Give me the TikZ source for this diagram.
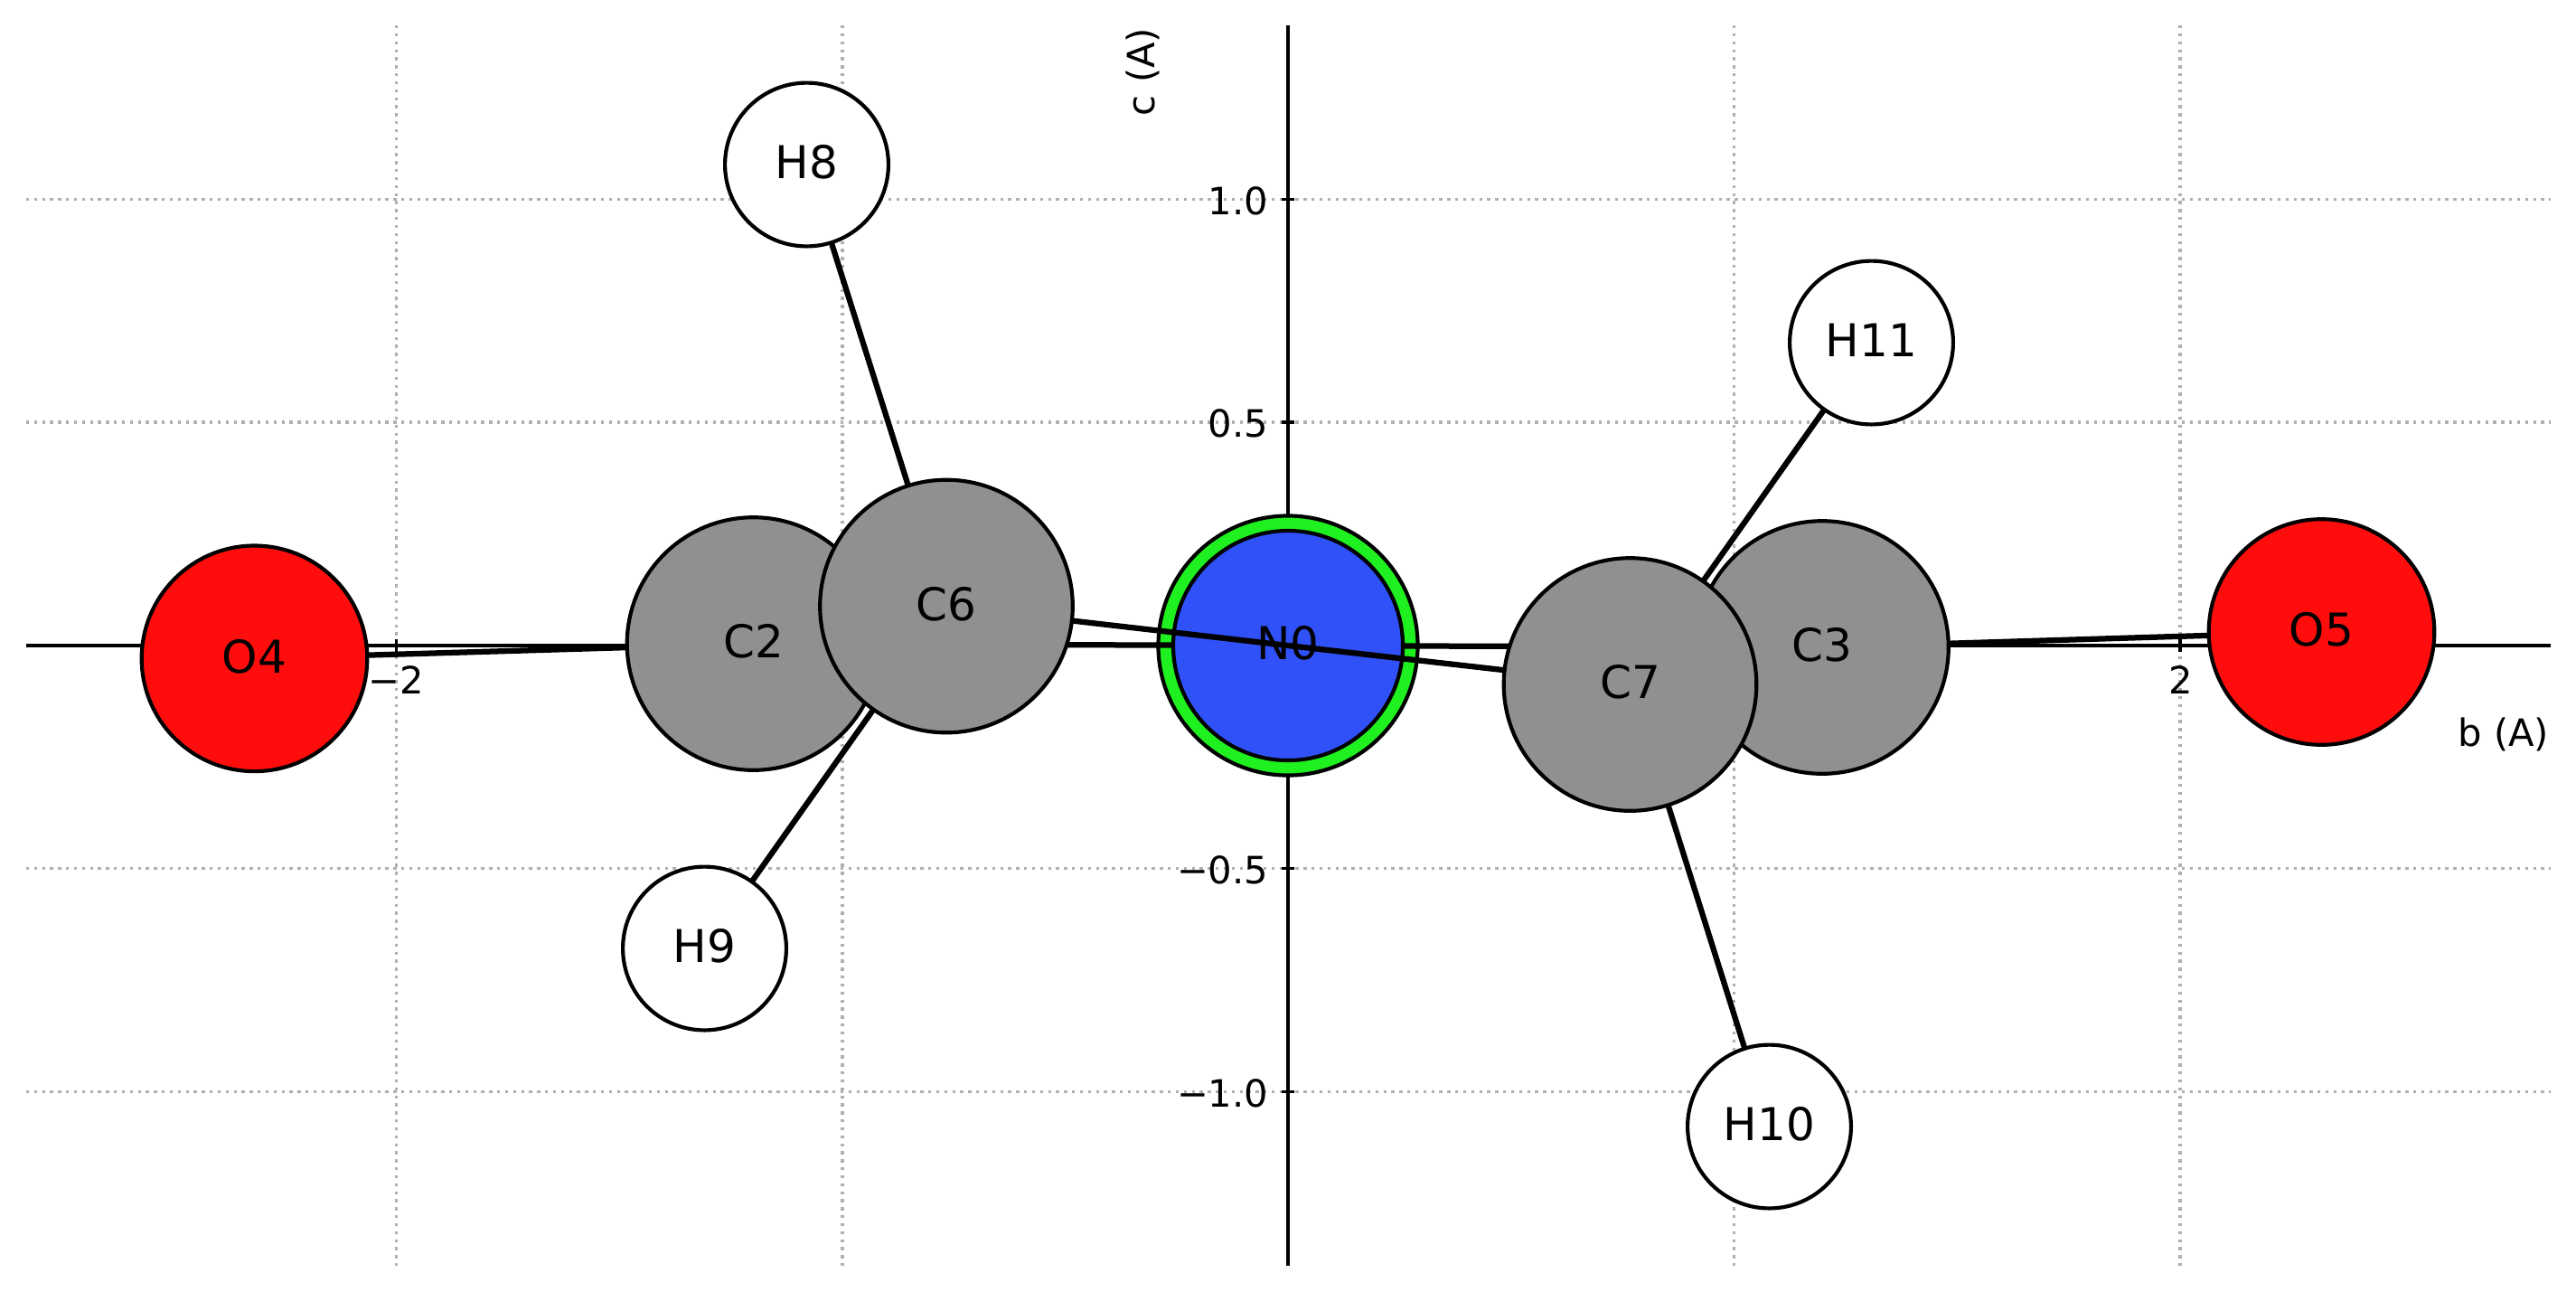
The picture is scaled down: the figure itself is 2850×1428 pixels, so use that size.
\documentclass[tikz,border=0pt]{standalone}
\usepackage{fontspec}
\setmainfont{DejaVu Sans}
\definecolor{cgray}{HTML}{909090}
\definecolor{ored}{HTML}{FF0D0D}
\definecolor{nblue}{HTML}{3050F8}
\definecolor{ringgreen}{HTML}{1FF01F}
\definecolor{gridgray}{HTML}{B0B0B0}
\pgfdeclarelayer{ringlayer}
\pgfdeclarelayer{bondlow}
\pgfdeclarelayer{bluelayer}
\pgfdeclarelayer{bondhigh}
\pgfdeclarelayer{atomlow}
\pgfdeclarelayer{atomhigh}
\pgfsetlayers{main,ringlayer,bondlow,bluelayer,bondhigh,atomlow,atomhigh}
\tikzset{
  atom/.style={circle,draw=black,line width=1pt,inner sep=0pt,text=black,
    font=\fontsize{12}{14}\selectfont,text height=8.75pt,text depth=1.2pt},
  carbon/.style={atom,fill=cgray,minimum size=67.1pt},
  oxygen/.style={atom,fill=ored,minimum size=59.9pt},
  hydrogen/.style={atom,fill=white,minimum size=43.4pt},
  nitrogen/.style={atom,fill=nblue,minimum size=60.96pt},
  ring/.style={atom,fill=ringgreen,minimum size=68.9pt},
  bond/.style={draw=black,line width=1.5pt},
  gridline/.style={draw=gridgray,line width=0.8pt,dash pattern=on 0.8pt off 1.32pt},
  axisline/.style={draw=black,line width=0.8pt},
  ticklab/.style={inner sep=0pt,font=\fontsize{10}{12}\selectfont},
}
\begin{document}
\begin{tikzpicture}[x=0.24pt,y=-0.24pt]
\useasboundingbox (0,0) rectangle (2850,1428);
% grid
\foreach \gx in {438.5,932,1918.5,2412}
  \draw[gridline] (\gx,28) -- (\gx,1400);
\foreach \gy in {220.5,467,960.5,1207.5}
  \draw[gridline] (29,\gy) -- (2822,\gy);
% axes
\coordinate (xa) at (29,714);
\coordinate (xb) at (2822,714);
\coordinate (ya) at (1425,28);
\coordinate (yb) at (1425,1400);
\draw[axisline] (xa) -- (xb);
\draw[axisline] (ya) -- (yb);
\foreach \gx in {438.5,2412}
  \draw[axisline] (\gx,706.7) -- (\gx,721.3);
\foreach \gy in {220.5,467,960.5,1207.5}
  \draw[axisline] (1417.7,\gy) -- (1432.3,\gy);
% tick labels
\node[ticklab,anchor=base] (xm2) at (438.5,767) {−2};
\node[ticklab,anchor=base] (xp2) at (2412.5,767) {2};
\node[ticklab,anchor=base east] (y10) at (1404,237) {1.0};
\node[ticklab,anchor=base east] (y05) at (1404,483.5) {0.5};
\node[ticklab,anchor=base east] (ym05) at (1404,977) {−0.5};
\node[ticklab,anchor=base east] (ym10) at (1404,1224) {−1.0};
\node[ticklab,anchor=base east] (xlab) at (2821,825) {b (A)};
\node[ticklab,anchor=base east,rotate=90] (ylab) at (1277,30) {c (A)};
% atoms
\begin{pgfonlayer}{ringlayer}
\node[ring] (N0ring) at (1425,714) {};
\end{pgfonlayer}
\begin{pgfonlayer}{bluelayer}
\node[nitrogen] (N0) at (1425,714) {N0};
\end{pgfonlayer}
\begin{pgfonlayer}{atomlow}
\node[carbon] (C2) at (833.5,712) {C2};
\node[carbon] (C3) at (2016,716) {C3};
\end{pgfonlayer}
\begin{pgfonlayer}{atomhigh}
\node[carbon] (C6) at (1047,670.5) {C6};
\node[carbon] (C7) at (1803.5,757) {C7};
\node[oxygen] (O4) at (281.5,728.3) {O4};
\node[oxygen] (O5) at (2568.5,699) {O5};
\node[hydrogen] (H8) at (892.5,182) {H8};
\node[hydrogen] (H9) at (779.5,1049) {H9};
\node[hydrogen] (H10) at (1957.5,1246) {H10};
\node[hydrogen] (H11) at (2070.5,379) {H11};
\end{pgfonlayer}
% bonds
\begin{pgfonlayer}{bondlow}
\draw[bond] (N0.center) -- (C2.center);
\draw[bond] (N0.center) -- (C3.center);
\draw[bond] (C2.center) -- (O4.center);
\draw[bond] (C3.center) -- (O5.center);
\draw[bond] (C6.center) -- (H8.center);
\draw[bond] (C6.center) -- (H9.center);
\draw[bond] (C7.center) -- (H10.center);
\draw[bond] (C7.center) -- (H11.center);
\end{pgfonlayer}
\begin{pgfonlayer}{bondhigh}
\draw[bond] (N0.center) -- (C6.center);
\draw[bond] (N0.center) -- (C7.center);
\end{pgfonlayer}
\end{tikzpicture}
\end{document}
